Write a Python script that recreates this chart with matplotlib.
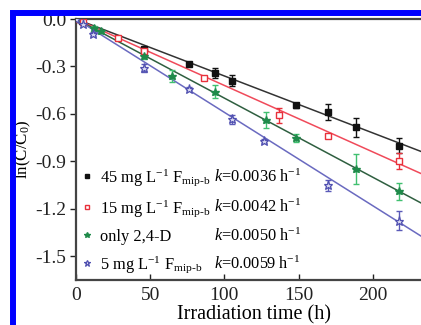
import numpy as np
import matplotlib
matplotlib.use("Agg")
import matplotlib.pyplot as plt
from matplotlib.patches import Rectangle

plt.rcParams['font.family'] = ['Liberation Serif', 'DejaVu Serif']
plt.rcParams['mathtext.fontset'] = 'custom'
plt.rcParams['mathtext.rm'] = 'Liberation Serif'
plt.rcParams['mathtext.it'] = 'Liberation Serif:italic'
plt.rcParams['mathtext.bf'] = 'Liberation Serif:bold'

# ---- data ----
t_45 = [0, 4, 46, 76, 94, 105, 148, 170, 189, 218]
v_45 = [0, -0.01, -0.19, -0.285, -0.34, -0.39, -0.545, -0.59, -0.685, -0.80]
e_45 = [0.005, 0.005, 0.015, 0.01, 0.03, 0.034, 0.015, 0.05, 0.06, 0.048]

t_15 = [0, 5, 28, 46, 86, 137, 170, 218]
v_15 = [0, -0.02, -0.12, -0.20, -0.37, -0.61, -0.74, -0.90]
e_15 = [0.005, 0.005, 0.01, 0.01, 0.012, 0.05, 0.012, 0.05]

t_24d = [0, 12, 17, 46, 64.5, 94, 128, 148, 189, 218]
v_24d = [0, -0.055, -0.077, -0.235, -0.36, -0.46, -0.64, -0.75, -0.95, -1.09]
e_24d = [0.005, 0.01, 0.01, 0.02, 0.04, 0.04, 0.05, 0.025, 0.095, 0.055]

t_5 = [0, 4.5, 11.6, 46, 76, 105, 127, 170, 218]
v_5 = [0, -0.03, -0.095, -0.31, -0.44, -0.635, -0.77, -1.05, -1.275]
e_5 = [0.005, 0.01, 0.012, 0.025, 0.012, 0.03, 0.012, 0.035, 0.06]

k_values = [0.0036, 0.0042, 0.0050, 0.0059]
labels = [r'45 mg L$^{-1}$ F$_{\text{mip-b}}$',
          r'15 mg L$^{-1}$ F$_{\text{mip-b}}$',
          r'only 2,4-D',
          r'5 mg L$^{-1}$ F$_{\text{mip-b}}$']
k_labels = [r'$k$=0.0036 h$^{-1}$', r'$k$=0.0042 h$^{-1}$',
            r'$k$=0.0050 h$^{-1}$', r'$k$=0.0059 h$^{-1}$']

xticks = [0, 50, 100, 150, 200]
yticks = [0.0, -0.3, -0.6, -0.9, -1.2, -1.5]

# ---- styles ----
series = [
    (t_45, v_45, e_45, dict(marker='s', ms=4.6, mfc='#111111', mec='#111111', color='#111111'), '#111111', '#333333'),
    (t_15, v_15, e_15, dict(marker='s', ms=4.6, mfc='white', mec='#e8303a', mew=1.0, color='#e8303a'), '#e8303a', '#f04a5a'),
    (t_24d, v_24d, e_24d, dict(marker='*', ms=6.2, mfc='#1f8a4a', mec='#1f8a4a', color='#1f8a4a'), '#40c070', '#2f5f40'),
    (t_5, v_5, e_5, dict(marker='*', ms=6.6, mfc='#d8d8f0', mec='#5050b0', mew=0.9, color='#5050b0'), '#5a5ab8', '#6a6ac0'),
]

fig = plt.figure(figsize=(4.21, 3.25), dpi=100)
ax = fig.add_axes([76/421, 45/325, 356/421, (280-19)/325])

xline = np.array([0, 240])
handles = []
for (t, v, e, mk, ecol, lcol), k in zip(series, k_values):
    ax.plot(xline, -k * xline, color=lcol, lw=1.1, zorder=2)
    ax.errorbar(t, v, yerr=e, fmt='none', ecolor=ecol, elinewidth=1.0, capsize=2.5, capthick=1.0, zorder=3)
    h, = ax.plot(t, v, linestyle='none', zorder=4, **mk)
    handles.append(h)

ax.set_xlim(0, 240)
ax.set_ylim(-1.65, 0.0)
ax.set_xticks(xticks)
ax.set_yticks(yticks)
ax.set_yticklabels([f'{y:.1f}' if y != 0 else '0.0' for y in yticks])
ax.tick_params(axis='x', direction='in', length=4, width=1, labelsize=14, pad=5, colors='#222222')
ax.tick_params(axis='y', direction='out', length=4, width=1, labelsize=14, pad=3, colors='#222222')
for sp in ax.spines.values():
    sp.set_linewidth(1.6)
    sp.set_color('#444444')
ax.set_xlabel('Irradiation time (h)', fontsize=14.5, labelpad=1)
ax.set_ylabel(r'ln(C/C$_0$)', fontsize=12.2)
ax.yaxis.set_label_coords(-0.12, 0.5)

leg = ax.legend(handles, labels, loc='lower left', bbox_to_anchor=(-0.01, -0.02),
                frameon=False, fontsize=11.8, handlelength=0.6, handletextpad=0.5,
                labelspacing=0.6, markerscale=0.7, borderaxespad=0.2)

fig.canvas.draw()
inv = ax.transAxes.inverted()
for txt, kl in zip(leg.get_texts(), k_labels):
    xd, yd = txt.get_transform().transform(txt.get_position())
    ya = inv.transform((xd, yd))[1]
    ax.text(0.388, ya, kl, transform=ax.transAxes, va='baseline', ha='left', fontsize=11.8)

fig.patches.append(Rectangle((13/421, -0.2), 1.5, 1.2 - 12.5/325, transform=fig.transFigure,
                             fill=False, edgecolor='#0000ff', lw=4.3, zorder=10))

fig.savefig('out.png', dpi=100)
